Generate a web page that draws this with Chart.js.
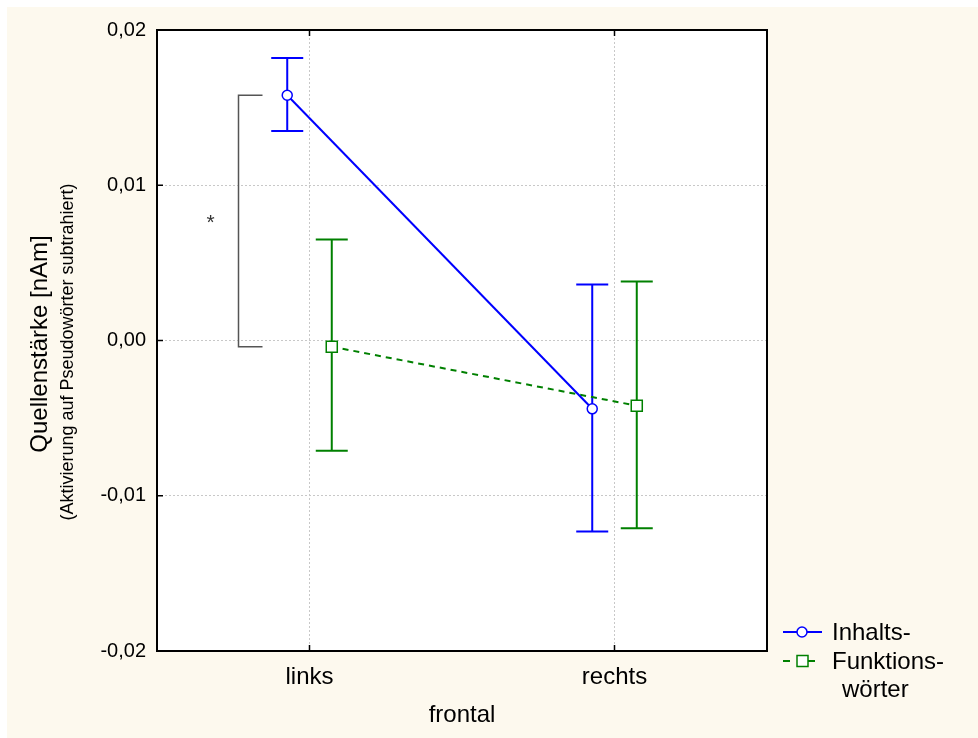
<!DOCTYPE html>
<html>
<head>
<meta charset="utf-8">
<script src="https://cdn.jsdelivr.net/npm/chart.js@4.4.1/dist/chart.umd.min.js"></script>
<style>
  body { margin: 0; background: #fff; }
  canvas { display: block; }
</style>
</head>
<body>
<canvas id="chart" width="978" height="738"></canvas>
<script>
// data
const categories = ['links', 'rechts'];
const categoryPos = [1, 2];
const inhaltsMean = [0.0158, -0.0044];
const inhaltsLow = [0.0135, -0.0123];
const inhaltsHigh = [0.0182, 0.0036];
const funktionsMean = [-0.0004, -0.0042];
const funktionsLow = [-0.0071, -0.0121];
const funktionsHigh = [0.0065, 0.0038];
const yTickValues = [-0.02, -0.01, 0, 0.01, 0.02];
const yTickLabels = ['-0,02', '-0,01', '0,00', '0,01', '0,02'];

const shift = 0.073;
const FONT = "'Liberation Sans', Arial, sans-serif";
const BLUE = '#0000ff';
const GREEN = '#008000';

const toPoints = (means, dx) => means.map((v, i) => ({ x: categoryPos[i] + dx, y: v }));

// background, plot frame, inner ticks
const frame = {
  id: 'frame',
  beforeDraw(chart) {
    const { ctx, chartArea: a } = chart;
    ctx.save();
    ctx.fillStyle = '#fff';
    ctx.fillRect(0, 0, chart.width, chart.height);
    ctx.fillStyle = '#fdf9ee';
    ctx.fillRect(7, 7, chart.width - 7, chart.height - 7);
    ctx.fillStyle = '#fff';
    ctx.fillRect(a.left, a.top, a.right - a.left, a.bottom - a.top);
    ctx.restore();
  },
  afterDraw(chart) {
    const { ctx, chartArea: a, scales: { x, y } } = chart;
    ctx.save();
    ctx.strokeStyle = '#000';
    ctx.lineWidth = 2;
    ctx.strokeRect(a.left, a.top, a.right - a.left, a.bottom - a.top);
    ctx.lineWidth = 1.5;
    ctx.beginPath();
    yTickValues.forEach(v => {
      const py = y.getPixelForValue(v);
      ctx.moveTo(a.left, py); ctx.lineTo(a.left + 6, py);
    });
    categoryPos.forEach(v => {
      const px = x.getPixelForValue(v);
      ctx.moveTo(px, a.bottom); ctx.lineTo(px, a.bottom - 6);
      ctx.moveTo(px, a.top); ctx.lineTo(px, a.top + 6);
    });
    ctx.stroke();
    ctx.restore();
  }
};

const errorBars = {
  id: 'errorBars',
  beforeDatasetsDraw(chart) {
    const { ctx, scales: { x, y } } = chart;
    chart.data.datasets.forEach(ds => {
      ctx.save();
      ctx.strokeStyle = ds.borderColor;
      ctx.lineWidth = 2;
      ds.data.forEach((p, i) => {
        const px = x.getPixelForValue(p.x);
        const top = y.getPixelForValue(ds.errHigh[i]);
        const bot = y.getPixelForValue(ds.errLow[i]);
        ctx.beginPath();
        ctx.moveTo(px, top); ctx.lineTo(px, bot);
        ctx.moveTo(px - 16, top); ctx.lineTo(px + 16, top);
        ctx.moveTo(px - 16, bot); ctx.lineTo(px + 16, bot);
        ctx.stroke();
      });
      ctx.restore();
    });
  }
};

// titles, significance bracket, legend
const extras = {
  id: 'extras',
  afterDraw(chart) {
    const { ctx, chartArea: a, scales: { x, y } } = chart;
    ctx.save();
    ctx.fillStyle = '#000';
    ctx.textAlign = 'center';
    ctx.textBaseline = 'middle';

    ctx.font = '24px ' + FONT;
    ctx.fillText('frontal', (a.left + a.right) / 2, 715);

    ctx.save();
    ctx.translate(40, 344);
    ctx.rotate(-Math.PI / 2);
    ctx.fillText('Quellenstärke [nAm]', 0, 0);
    ctx.restore();
    ctx.save();
    ctx.translate(68, 352);
    ctx.rotate(-Math.PI / 2);
    ctx.font = '18px ' + FONT;
    ctx.fillText('(Aktivierung auf Pseudowörter subtrahiert)', 0, 0);
    ctx.restore();

    // bracket between the two "links" means
    const cx = x.getPixelForValue(categoryPos[0]);
    const bTop = y.getPixelForValue(inhaltsMean[0]);
    const bBot = y.getPixelForValue(funktionsMean[0]);
    ctx.strokeStyle = '#555';
    ctx.lineWidth = 1.5;
    ctx.beginPath();
    ctx.moveTo(cx - 47, bTop); ctx.lineTo(cx - 71, bTop);
    ctx.lineTo(cx - 71, bBot); ctx.lineTo(cx - 47, bBot);
    ctx.stroke();
    ctx.font = '21px ' + FONT;
    ctx.fillStyle = '#333';
    ctx.fillText('*', cx - 99, (bTop + bBot) / 2 + 2);

    // legend
    const lx = a.right + 16;
    ctx.fillStyle = '#000';
    ctx.textAlign = 'left';
    ctx.font = '24px ' + FONT;
    ctx.strokeStyle = BLUE;
    ctx.lineWidth = 2;
    ctx.beginPath();
    ctx.moveTo(lx, 632); ctx.lineTo(lx + 39, 632);
    ctx.stroke();
    ctx.fillStyle = '#fff';
    ctx.lineWidth = 1.5;
    ctx.beginPath();
    ctx.arc(lx + 19, 632, 5, 0, Math.PI * 2);
    ctx.fill(); ctx.stroke();

    ctx.strokeStyle = GREEN;
    ctx.lineWidth = 2;
    ctx.beginPath();
    ctx.moveTo(lx, 661); ctx.lineTo(lx + 7, 661);
    ctx.moveTo(lx + 25, 661); ctx.lineTo(lx + 32, 661);
    ctx.stroke();
    ctx.lineWidth = 1.5;
    ctx.fillRect(lx + 14, 655.5, 11, 11);
    ctx.strokeRect(lx + 14, 655.5, 11, 11);

    ctx.fillStyle = '#000';
    ctx.fillText('Inhalts-', lx + 49, 633);
    ctx.fillText('Funktions-', lx + 49, 662);
    ctx.fillText('wörter', lx + 59, 690);
    ctx.restore();
  }
};

new Chart(document.getElementById('chart'), {
  type: 'line',
  data: {
    datasets: [{
      label: 'Inhalts-',
      data: toPoints(inhaltsMean, -shift),
      errLow: inhaltsLow,
      errHigh: inhaltsHigh,
      borderColor: BLUE,
      borderWidth: 2,
      pointStyle: 'circle',
      pointRadius: 5,
      pointBorderWidth: 1.5,
      pointBackgroundColor: '#fff',
      tension: 0
    }, {
      label: 'Funktionswörter',
      data: toPoints(funktionsMean, shift),
      errLow: funktionsLow,
      errHigh: funktionsHigh,
      borderColor: GREEN,
      borderWidth: 2,
      borderDash: [6, 5],
      pointStyle: 'rect',
      pointRadius: 7.8,
      pointBorderWidth: 1.5,
      pointBackgroundColor: '#fff',
      tension: 0
    }]
  },
  options: {
    responsive: false,
    animation: false,
    layout: { padding: { top: 30, right: 211, left: 0, bottom: 0 } },
    plugins: { legend: { display: false }, tooltip: { enabled: false } },
    scales: {
      x: {
        type: 'linear',
        min: 0.5,
        max: 2.5,
        afterBuildTicks: s => { s.ticks = categoryPos.map(v => ({ value: v })); },
        afterFit: s => { s.height = 87; },
        ticks: {
          padding: 12,
          color: '#000',
          font: { family: FONT, size: 24 },
          callback: v => categories[categoryPos.indexOf(v)]
        },
        grid: { color: '#c8c8c8', lineWidth: 1, drawTicks: false },
        border: { display: false, dash: [2, 2] }
      },
      y: {
        min: -0.02,
        max: 0.02,
        afterBuildTicks: s => { s.ticks = yTickValues.map(v => ({ value: v })); },
        afterFit: s => { s.width = 157; },
        ticks: {
          padding: 11,
          color: '#000',
          font: { family: FONT, size: 20 },
          callback: (v, i) => yTickLabels[i]
        },
        grid: { color: '#c8c8c8', lineWidth: 1, drawTicks: false },
        border: { display: false, dash: [2, 2] }
      }
    }
  },
  plugins: [frame, errorBars, extras]
});
</script>
</body>
</html>
